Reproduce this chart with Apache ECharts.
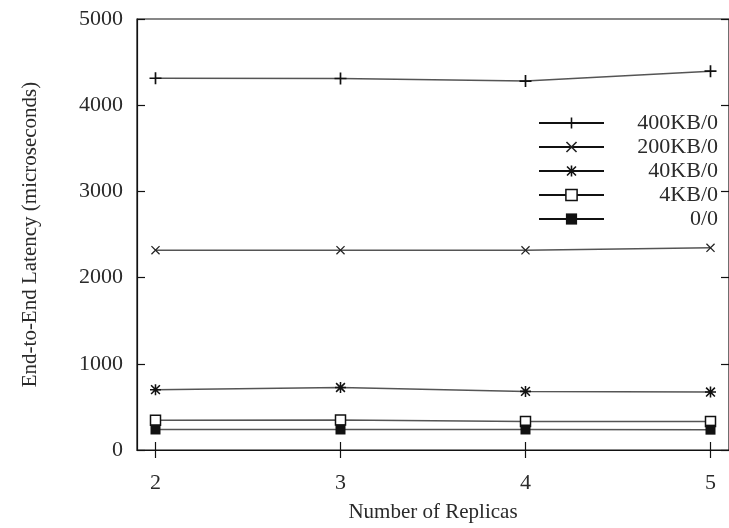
<!DOCTYPE html>
<html>
<head>
<meta charset="utf-8">
<script src="https://cdn.jsdelivr.net/npm/echarts@6/dist/echarts.min.js"></script>
<style>html,body{margin:0;padding:0;background:#fff;}#c{width:729px;height:528px;}</style>
</head>
<body>
<div id="c"></div>
<script>
const replicas = [2, 3, 4, 5];
const xTicks = [2, 3, 4, 5];
const yTicks = [0, 1000, 2000, 3000, 4000, 5000];
const seriesNames = ['400KB/0', '200KB/0', '40KB/0', '4KB/0', '0/0'];
const lat400KB = [4313, 4310, 4280, 4395];
const lat200KB = [2318, 2318, 2316, 2345];
const lat40KB = [700, 725, 680, 672];
const lat4KB = [345, 348, 332, 330];
const lat0 = [238, 238, 238, 236];

const PLUS = 'path://M4.3,0h1.4v10h-1.4zM0,4.3h10v1.4h-10z';
const CROSS = 'path://M0,1L1,0L10,9L9,10ZM9,0L10,1L1,10L0,9Z';
const STAR = 'path://M4.3,0h1.4v10h-1.4zM0,4.3h10v1.4h-10zM0.5,1.5L1.5,0.5L9.5,8.5L8.5,9.5ZM8.5,0.5L9.5,1.5L1.5,9.5L0.5,8.5Z';

const font = 'Liberation Serif';
const txt = '#2a2a2a';

function mk(name, vals, symbol, size, item) {
  return {
    name: name,
    type: 'line',
    data: replicas.map((r, i) => [r, vals[i]]),
    symbol: symbol,
    symbolSize: size,
    showAllSymbol: true,
    lineStyle: { color: '#555', width: 1.5 },
    itemStyle: item,
    emphasis: { disabled: true },
    z: 3
  };
}

const chart = echarts.init(document.getElementById('c'), null, { renderer: 'canvas' });
chart.setOption({
  animation: false,
  backgroundColor: '#fff',
  grid: { left: 137, top: 19, width: 595, height: 437, show: true, borderColor: '#111', borderWidth: 1.2, backgroundColor: 'transparent' },
  legend: {
    orient: 'vertical',
    left: 533,
    top: 107,
    itemWidth: 65,
    itemHeight: 14,
    itemGap: 2,
    data: seriesNames,
    selectedMode: false,
    formatter: function (n) { return '{a|' + n + '}'; },
    lineStyle: { color: '#111', width: 2 },
    itemStyle: { borderWidth: 1.5 },
    textStyle: {
      fontFamily: font, fontSize: 22, color: txt,
      rich: { a: { width: 109, align: 'right', fontFamily: font, fontSize: 22, color: txt, lineHeight: 22 } }
    }
  },
  xAxis: [{
    type: 'value', min: 1.9, max: 5.1,
    name: 'Number of Replicas', nameLocation: 'middle', nameGap: 52,
    nameTextStyle: { fontFamily: font, fontSize: 21, color: txt },
    axisLine: { show: true, onZero: false, lineStyle: { color: '#111', width: 1.2 } },
    axisTick: { show: true, inside: true, length: 8, customValues: xTicks, lineStyle: { color: '#111', width: 1.2 } },
    axisLabel: { customValues: xTicks, margin: 22, fontFamily: font, fontSize: 22, color: txt },
    splitLine: { show: false }
  }, {
    type: 'value', min: 1.9, max: 5.1, position: 'top',
    axisLine: { show: false },
    axisTick: { show: true, inside: true, length: 8, customValues: xTicks, lineStyle: { color: '#111', width: 1.2 } },
    axisLabel: { show: false, customValues: xTicks },
    splitLine: { show: false }
  }],
  yAxis: [{
    type: 'value', min: 0, max: 5000, interval: 1000,
    name: 'End-to-End Latency (microseconds)', nameLocation: 'middle', nameGap: 96,
    nameTextStyle: { fontFamily: font, fontSize: 21, color: txt },
    axisLine: { show: true, lineStyle: { color: '#111', width: 1.2 } },
    axisTick: { show: true, inside: true, length: 8, lineStyle: { color: '#111', width: 1.2 } },
    axisLabel: { margin: 14, fontFamily: font, fontSize: 22, color: txt, customValues: yTicks, formatter: function (v) { return String(v); } },
    splitLine: { show: false }
  }, {
    type: 'value', min: 0, max: 5000, interval: 1000, position: 'right',
    axisLine: { show: false },
    axisTick: { show: true, inside: true, length: 8, lineStyle: { color: '#111', width: 1.2 } },
    axisLabel: { show: false },
    splitLine: { show: false }
  }],
  series: [
    mk(seriesNames[0], lat400KB, PLUS, 12, { color: '#111' }),
    mk(seriesNames[1], lat200KB, CROSS, 9, { color: '#222' }),
    mk(seriesNames[2], lat40KB, STAR, 11, { color: '#111' }),
    mk(seriesNames[3], lat4KB, 'rect', 10, { color: '#fff', borderColor: '#111', borderWidth: 1.5 }),
    mk(seriesNames[4], lat0, 'rect', 10, { color: '#111' })
  ]
});
</script>
</body>
</html>
